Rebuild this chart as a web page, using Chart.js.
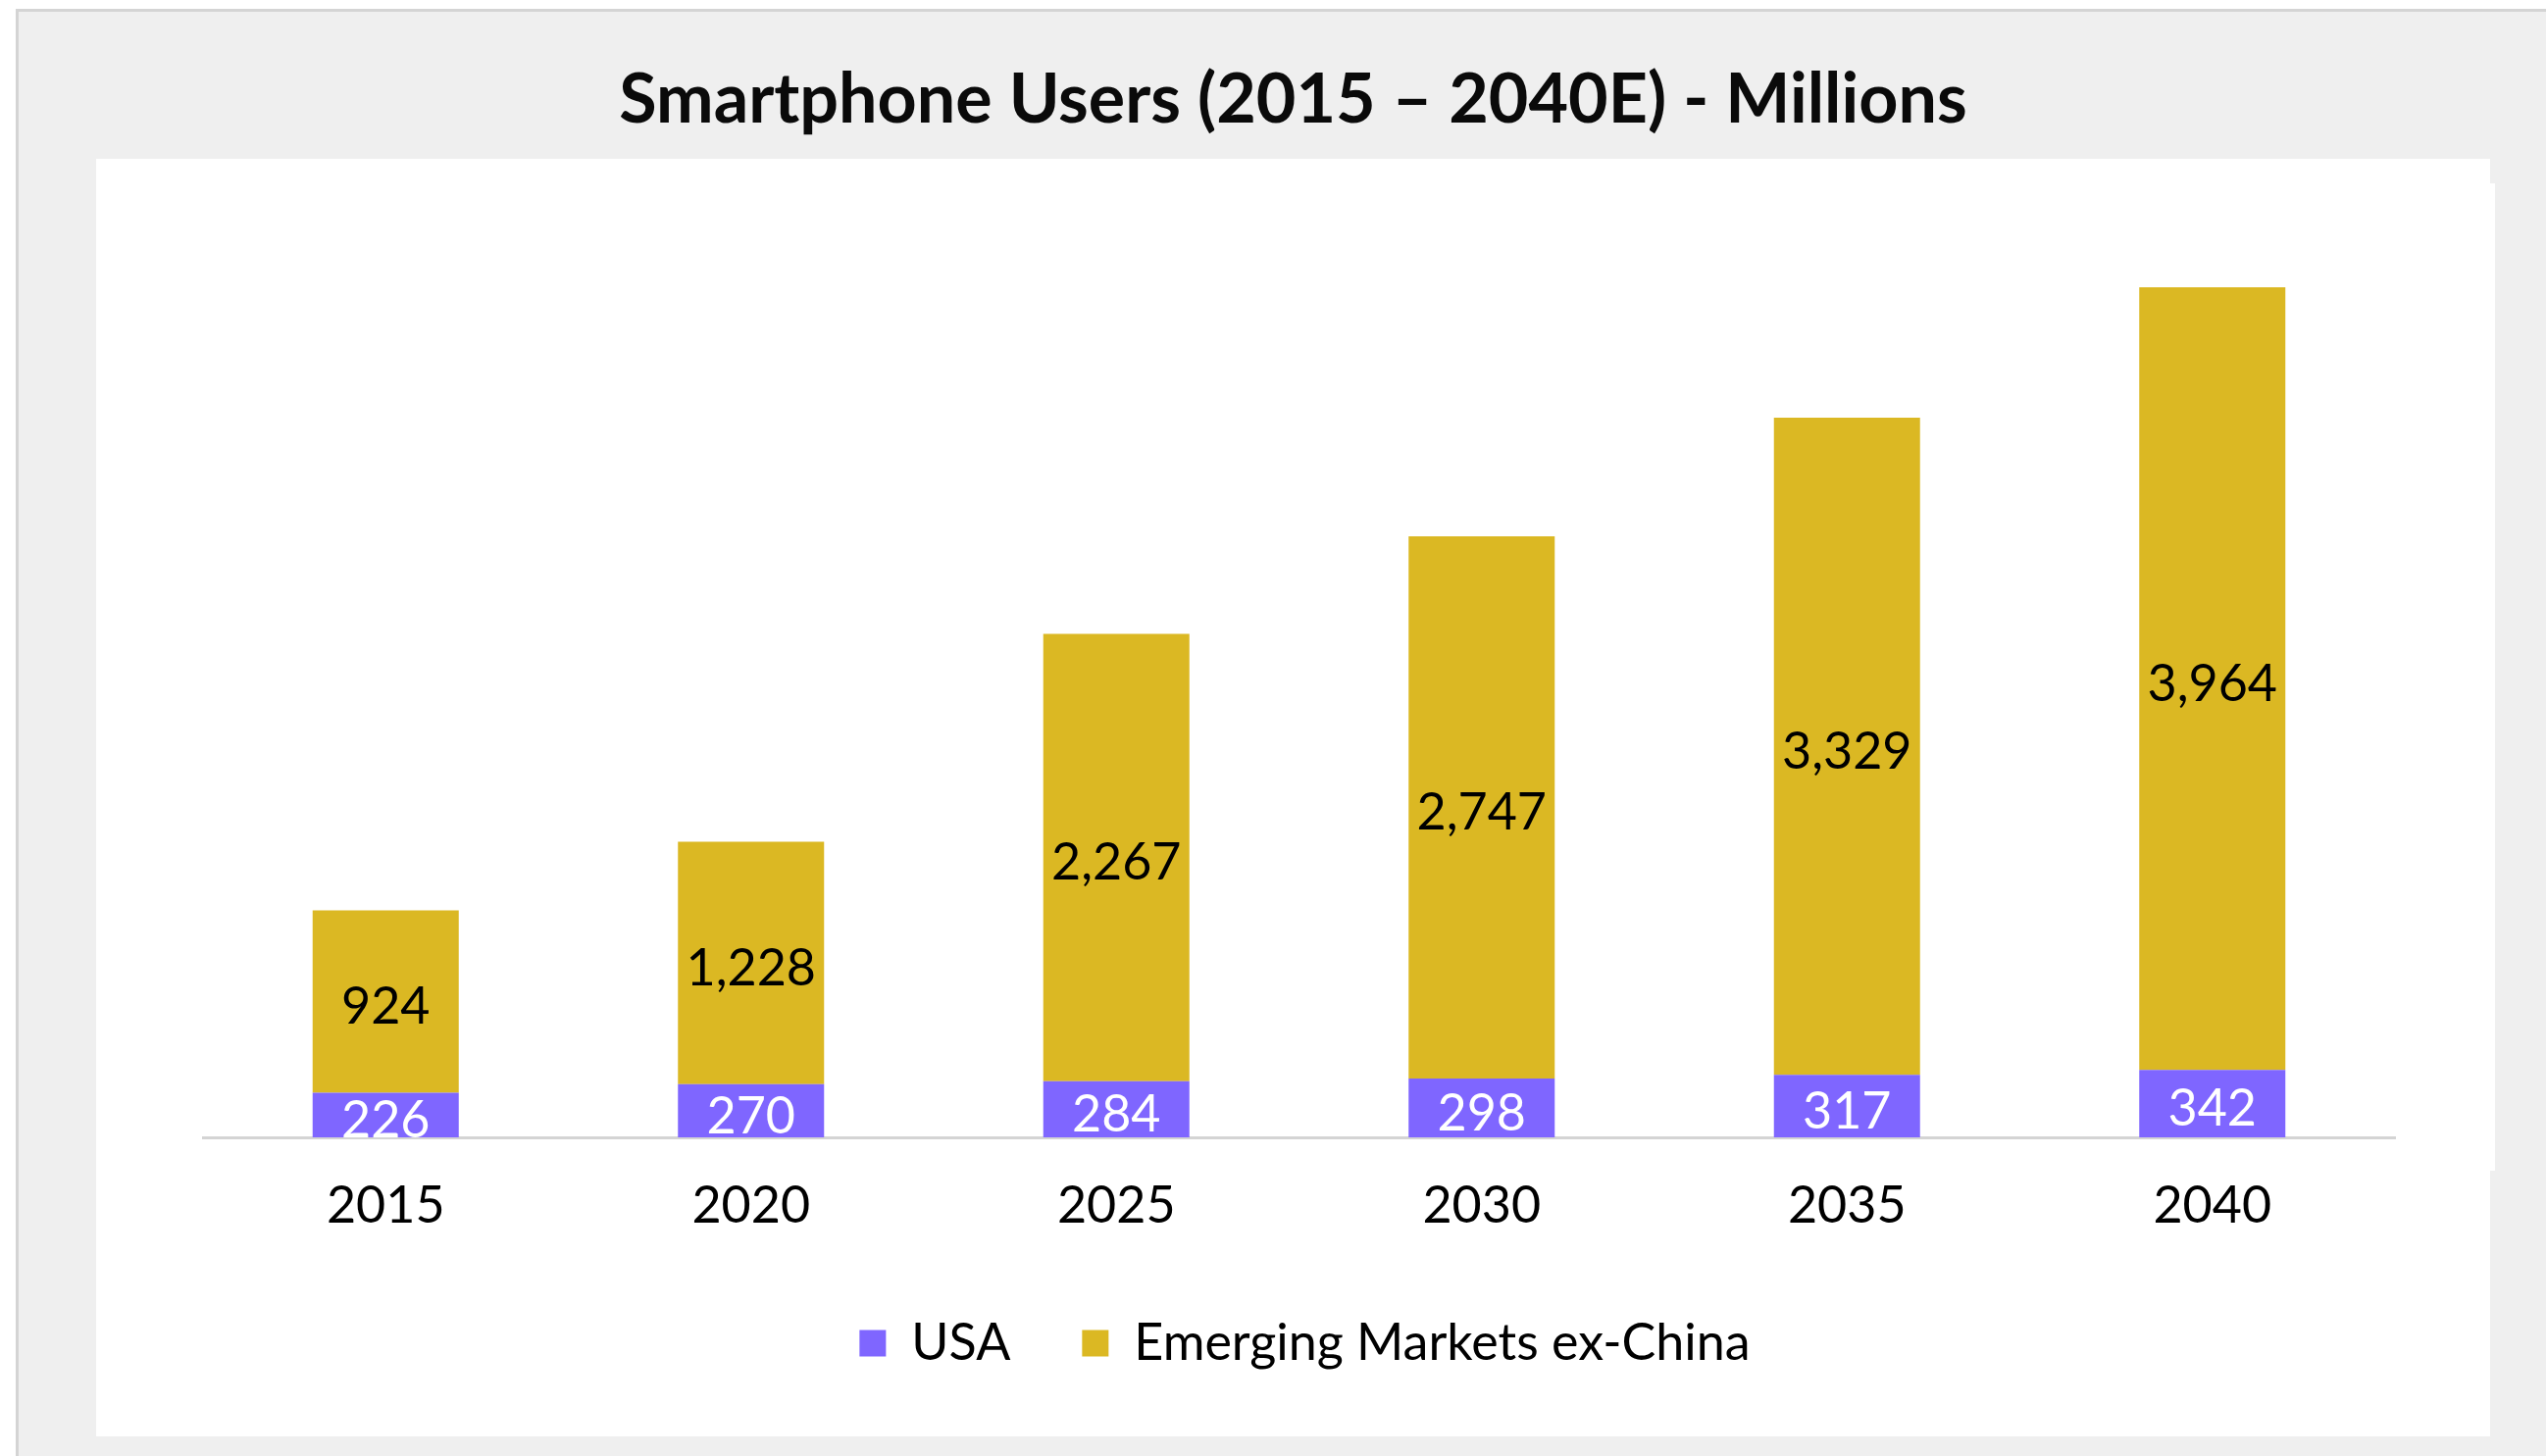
<!DOCTYPE html>
<html>
<head>
<meta charset="utf-8">
<script src="https://cdn.jsdelivr.net/npm/chart.js@4"></script>
<style>
  html, body { margin: 0; padding: 0; background: #ffffff; }
  #wrap { width: 2596px; height: 1485px; }
</style>
</head>
<body>
<div id="wrap"><canvas id="c" width="2596" height="1485"></canvas></div>
<script>
const years = ['2015', '2020', '2025', '2030', '2035', '2040'];
const usaUsers = [226, 270, 284, 298, 317, 342];
const emergingUsers = [924, 1228, 2267, 2747, 3329, 3964];
const seriesNames = ['USA', 'Emerging Markets ex-China'];
const chartTitle = 'Smartphone Users (2015 \u2013 2040E) - Millions';

const PURPLE = '#7f66ff';
const GOLD = '#dbb823';
const FONT = 'Lato';

// fit title font size to the reference width
const mctx = document.createElement('canvas').getContext('2d');
mctx.font = '700 100px ' + FONT;
const titleSize = Math.round(100 * 1370 / mctx.measureText(chartTitle).width);

const backgroundPlugin = {
  id: 'bg',
  beforeDraw(chart) {
    const ctx = chart.ctx;
    const W = chart.width, H = chart.height;
    ctx.save();
    ctx.fillStyle = '#ffffff';
    ctx.fillRect(0, 0, W, H);
    ctx.fillStyle = '#d4d4d4';
    ctx.fillRect(16, 9, W - 16, H - 9);
    ctx.fillStyle = '#efefef';
    ctx.fillRect(19, 12, W - 19, H - 12);
    ctx.fillStyle = '#ffffff';
    ctx.fillRect(98, 162, 2539 - 98, 1465 - 162);
    ctx.fillRect(2539, 187, 5, 1194 - 187);
    ctx.restore();
  }
};

const nudgePlugin = {
  id: 'nudge',
  afterLayout(chart) {
    if (chart.legend) { chart.legend.left += 6; chart.legend.right += 6; }
    if (chart.titleBlock) { chart.titleBlock.left -= 6; chart.titleBlock.right -= 6; }
  }
};

const valueLabelPlugin = {
  id: 'valueLabels',
  afterDatasetsDraw(chart) {
    const ctx = chart.ctx;
    const area = chart.chartArea;
    ctx.save();
    ctx.beginPath();
    ctx.rect(area.left, area.top, area.right - area.left, area.bottom - area.top);
    ctx.clip();
    ctx.font = '400 52px ' + FONT;
    ctx.textAlign = 'center';
    ctx.textBaseline = 'middle';
    chart.data.datasets.forEach((ds, di) => {
      const meta = chart.getDatasetMeta(di);
      ctx.fillStyle = di === 0 ? '#ffffff' : '#000000';
      meta.data.forEach((el, i) => {
        const p = el.getProps(['x', 'y', 'base'], true);
        const cy = (p.y + p.base) / 2 + 6;
        ctx.fillText(ds.data[i].toLocaleString('en-US'), p.x, cy);
      });
    });
    ctx.restore();
  }
};

new Chart(document.getElementById('c'), {
  type: 'bar',
  data: {
    labels: years,
    datasets: [
      { label: seriesNames[0], data: usaUsers, backgroundColor: PURPLE, borderWidth: 0 },
      { label: seriesNames[1], data: emergingUsers, backgroundColor: GOLD, borderWidth: 0 }
    ]
  },
  options: {
    responsive: false,
    devicePixelRatio: 1,
    animation: false,
    datasets: { bar: { categoryPercentage: 1, barPercentage: 0.4 } },
    layout: { padding: { left: 207, right: 154, top: 0, bottom: 79 } },
    plugins: {
      tooltip: { enabled: false },
      title: {
        display: true,
        text: chartTitle,
        color: '#0a0a0a',
        font: { family: FONT, size: titleSize, weight: '700', lineHeight: 1.2 },
        padding: { top: 102 - 0.6 * titleSize, bottom: 152 - 0.6 * titleSize }
      },
      legend: {
        position: 'bottom',
        labels: {
          color: '#000000',
          font: { family: FONT, size: 52 },
          boxWidth: 27,
          boxHeight: 27,
          padding: 73
        }
      }
    },
    scales: {
      x: {
        stacked: true,
        grid: { display: false, drawTicks: false },
        border: { display: true, color: '#d4d4d4', width: 3 },
        ticks: { color: '#000000', font: { family: FONT, size: 52 }, padding: 39 },
        afterFit(scale) { scale.height = 111; }
      },
      y: {
        stacked: true,
        display: false,
        min: 0,
        max: 4500
      }
    }
  },
  plugins: [backgroundPlugin, nudgePlugin, valueLabelPlugin]
});
</script>
</body>
</html>
